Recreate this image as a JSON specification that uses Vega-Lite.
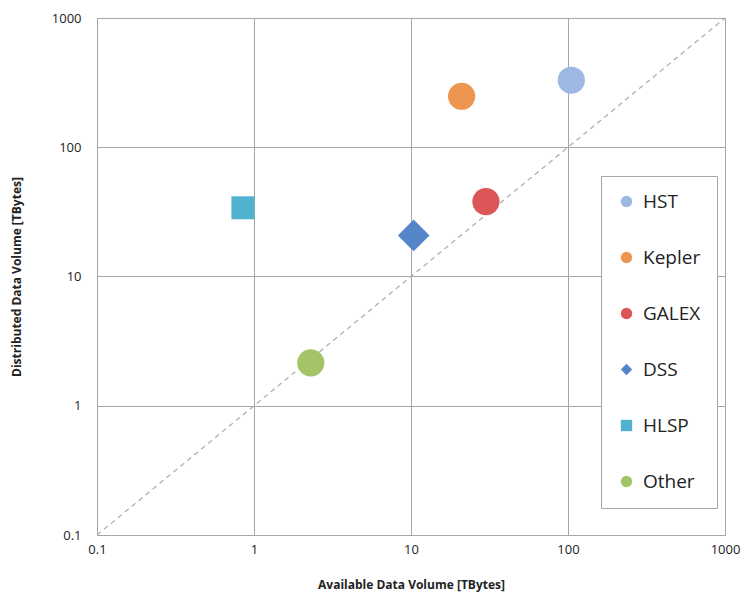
{
  "$schema": "https://vega.github.io/schema/vega-lite/v6.json",
  "autosize": "none",
  "width": 628,
  "height": 517,
  "padding": {"left": 97, "top": 18, "right": 26, "bottom": 65},
  "background": "white",
  "config": {
    "view": {"stroke": "#a6a6a6", "strokeWidth": 1},
    "font": "Open Sans"
  },
  "datasets": {
    "points": [
      {"series": "HST", "available": 105, "distributed": 330},
      {"series": "Kepler", "available": 21, "distributed": 248},
      {"series": "GALEX", "available": 30, "distributed": 38},
      {"series": "DSS", "available": 10.4, "distributed": 20.8},
      {"series": "HLSP", "available": 0.85, "distributed": 34},
      {"series": "Other", "available": 2.3, "distributed": 2.15}
    ],
    "diagonal": [{"available": 0.1, "distributed": 0.1}, {"available": 1000, "distributed": 1000}]
  },
  "encoding": {
    "x": {
      "field": "available", "type": "quantitative",
      "scale": {"type": "log", "domain": [0.1, 1000]},
      "axis": {
        "title": "Available Data Volume [TBytes]",
        "values": [0.1, 1, 10, 100, 1000],
        "format": "~g",
        "grid": true, "gridColor": "#a6a6a6", "gridOpacity": 1,
        "domain": false, "ticks": false,
        "labelFontSize": 13, "labelColor": "#222", "labelPadding": 8,
        "labelFlush": false,
        "titleFontSize": 12, "titleFontWeight": "bold", "titleColor": "#222", "titlePadding": 23
      }
    },
    "y": {
      "field": "distributed", "type": "quantitative",
      "scale": {"type": "log", "domain": [0.1, 1000]},
      "axis": {
        "title": "Distributed Data Volume [TBytes]",
        "values": [0.1, 1, 10, 100, 1000],
        "format": "~g",
        "grid": true, "gridColor": "#a6a6a6", "gridOpacity": 1,
        "domain": false, "ticks": false,
        "labelFontSize": 13, "labelColor": "#222", "labelPadding": 16,
        "labelFlush": false,
        "titleFontSize": 12, "titleFontWeight": "bold", "titleColor": "#222", "titlePadding": 28
      }
    }
  },
  "layer": [
    {
      "data": {"name": "diagonal"},
      "mark": {"type": "line", "color": "#b0b0b0", "strokeDash": [5, 4], "strokeWidth": 1.3}
    },
    {
      "data": {"name": "points"},
      "transform": [{"filter": "datum.series !== 'DSS' && datum.series !== 'HLSP'"}],
      "mark": {"type": "point", "filled": true, "opacity": 1, "size": 740},
      "encoding": {
        "color": {"field": "series", "type": "nominal", "scale": {"domain": ["HST", "Kepler", "GALEX", "DSS", "HLSP", "Other"], "range": ["#9db8e3", "#ec9650", "#dc5658", "#5385c8", "#4fb3cf", "#a3c567"]},
          "legend": {
            "title": null,
            "orient": "none", "legendX": 504, "legendY": 158,
            "padding": 16, "strokeColor": "#a6a6a6", "fillColor": "white",
            "labelFontSize": 19, "labelColor": "#222", "symbolSize": 130,
            "rowPadding": 36, "labelOffset": 7, "symbolStrokeWidth": 0,
            "offset": 0
          }
        },
        "shape": {"field": "series", "type": "nominal", "scale": {"domain": ["HST", "Kepler", "GALEX", "DSS", "HLSP", "Other"], "range": ["circle", "circle", "circle", "diamond", "square", "circle"]}}
      }
    },
    {
      "data": {"name": "points"},
      "transform": [{"filter": "datum.series === 'DSS'"}],
      "mark": {"type": "point", "filled": true, "opacity": 1, "size": 1000},
      "encoding": {
        "color": {"field": "series", "type": "nominal"},
        "shape": {"field": "series", "type": "nominal"}
      }
    },
    {
      "data": {"name": "points"},
      "transform": [{"filter": "datum.series === 'HLSP'"}],
      "mark": {"type": "point", "filled": true, "opacity": 1, "size": 530},
      "encoding": {
        "color": {"field": "series", "type": "nominal"},
        "shape": {"field": "series", "type": "nominal"}
      }
    }
  ]
}
